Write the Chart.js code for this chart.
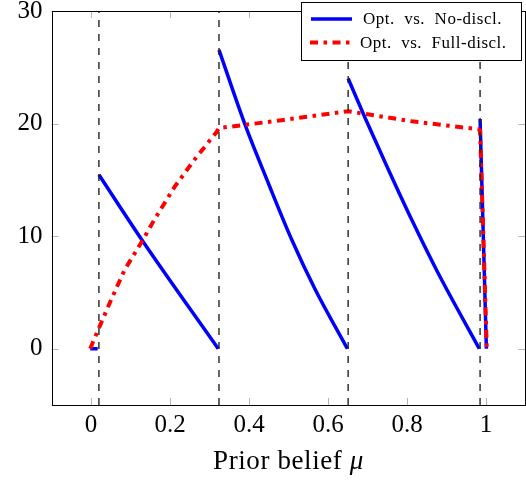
<!DOCTYPE html>
<html>
<head>
<meta charset="utf-8">
<script src="https://cdn.jsdelivr.net/npm/chart.js@4.4.1/dist/chart.umd.min.js"></script>
<style>
  html, body { margin: 0; padding: 0; background: #fff; }
  #wrap { width: 526px; height: 481px; position: relative; }
</style>
</head>
<body>
<div id="wrap"><canvas id="c" width="526" height="481"></canvas></div>
<script>
/* Opt. vs. No-discl. / Full-discl. over prior belief mu */
const xTickVals = [0, 0.2, 0.4, 0.6, 0.8, 1];
const xTickLabels = ['0', '0.2', '0.4', '0.6', '0.8', '1'];
const yTickVals = [0, 10, 20, 30];
const yTickLabels = ['0', '10', '20', '30'];

// blue curve, null = jump
const noDisclX = [-0.002, 0.017, 0.0185, 0.02, 0.132, 0.322, 0.323, 0.324, 0.39, 0.449, 0.508, 0.567, 0.649, 0.65, 0.651, 0.694, 0.753, 0.812, 0.879, 0.983, 0.984, 0.985, 1.001];
const noDisclY = [0, 0, null, 15.45, 9.5, 0, null, 26.55, 19.9, 14.7, 9.7, 5.3, 0, null, 24.0, 20.5, 15.9, 11.45, 6.7, 0, null, 20.4, 0];

// red curve
const fullDisclX = [-0.002, 0.022, 0.051, 0.085, 0.132, 0.161, 0.212, 0.262, 0.317, 0.324, 0.483, 0.651, 0.812, 0.98, 0.985, 1.002];
const fullDisclY = [0, 2.0, 4.35, 7.0, 9.7, 11.5, 14.4, 16.8, 19.2, 19.6, 20.3, 21.1, 20.2, 19.5, 19.4, 0];

// dashed thresholds
const cutX = [0.02, 0.324, 0.651, 0.985];

const FONT = "'Liberation Serif', 'Times New Roman', serif";

function pts(xs, ys) { return xs.map((x, i) => ({ x: x, y: ys[i] })); }

const cutPts = [];
cutX.forEach(x => { cutPts.push({ x: x, y: -5 }, { x: x, y: 30 }, { x: x, y: null }); });

/* box frame + inward ticks */
const framePlugin = {
  id: 'frame',
  afterDatasetsDraw(chart) {
    const { ctx, chartArea: a, scales } = chart;
    ctx.save();
    ctx.strokeStyle = '#b4b4b4';
    ctx.lineWidth = 1;
    const tl = 7;
    xTickVals.forEach(v => {
      const px = Math.round(scales.x.getPixelForValue(v)) + 0.5;
      ctx.beginPath();
      ctx.moveTo(px, a.bottom); ctx.lineTo(px, a.bottom - tl);
      ctx.moveTo(px, a.top); ctx.lineTo(px, a.top + tl);
      ctx.stroke();
    });
    yTickVals.forEach(v => {
      const py = Math.round(scales.y.getPixelForValue(v)) + 0.5;
      ctx.beginPath();
      ctx.moveTo(a.left, py); ctx.lineTo(a.left + tl, py);
      ctx.moveTo(a.right, py); ctx.lineTo(a.right - tl, py);
      ctx.stroke();
    });
    ctx.strokeStyle = '#000';
    ctx.strokeRect(Math.round(a.left) + 0.5, Math.round(a.top) + 0.5,
      Math.round(a.right) - Math.round(a.left) - 1, Math.round(a.bottom) - Math.round(a.top));
    ctx.restore();
  },
  afterDraw(chart) {
    const { ctx, chartArea: a } = chart;
    ctx.save();
    // axis title, mu in italic
    const t1 = 'Prior belief ', t2 = 'μ';
    ctx.fillStyle = '#000';
    ctx.textBaseline = 'alphabetic';
    ctx.letterSpacing = '0.6px';
    ctx.font = '27px ' + FONT;
    const w1 = ctx.measureText(t1).width;
    ctx.font = 'italic 27px ' + FONT;
    const w2 = ctx.measureText(t2).width;
    const cx = (a.left + a.right) / 2;
    let x0 = cx - (w1 + w2) / 2;
    ctx.font = '27px ' + FONT;
    ctx.fillText(t1, x0, 469);
    ctx.font = 'italic 27px ' + FONT;
    ctx.fillText(t2, x0 + w1, 469);
    ctx.letterSpacing = '0px';

    // legend box
    const bx = 301.5, by = 2.5, bw = 220, bh = 58;
    ctx.fillStyle = '#fff';
    ctx.fillRect(bx, by, bw, bh);
    ctx.strokeStyle = '#000';
    ctx.lineWidth = 1;
    ctx.strokeRect(bx, by, bw, bh);
    const rows = [
      { ds: chart.data.datasets[0], y: 19, lx0: 311, lx1: 352, tx: 363 },
      { ds: chart.data.datasets[1], y: 42.5, lx0: 310, lx1: 350, tx: 360 },
    ];
    rows.forEach(r => {
      ctx.beginPath();
      ctx.strokeStyle = r.ds.borderColor;
      ctx.lineWidth = r.ds.borderWidth;
      ctx.setLineDash(r.ds.borderDash || []);
      ctx.moveTo(r.lx0, r.y); ctx.lineTo(r.lx1, r.y);
      ctx.stroke();
      ctx.setLineDash([]);
      ctx.fillStyle = '#000';
      ctx.font = '17px ' + FONT;
      ctx.textBaseline = 'alphabetic';
      ctx.letterSpacing = '0.5px';
      ctx.fillText(r.ds.label, r.tx, r.y + 5);
      ctx.letterSpacing = '0px';
    });
    ctx.restore();
  }
};

new Chart(document.getElementById('c').getContext('2d'), {
  type: 'line',
  data: {
    datasets: [
      {
        label: 'Opt.  vs.  No-discl.',
        data: pts(noDisclX, noDisclY),
        borderColor: '#0000ff',
        borderWidth: 3.5,
        pointRadius: 0,
        cubicInterpolationMode: 'monotone',
        spanGaps: false,
        order: 2,
      },
      {
        label: 'Opt.  vs.  Full-discl.',
        data: pts(fullDisclX, fullDisclY),
        borderColor: '#ff0000',
        borderWidth: 4,
        borderDash: [8, 5.5, 3.5, 5.5],
        borderCapStyle: 'butt',
        pointRadius: 0,
        tension: 0,
        order: 1,
      },
      {
        label: 'cuts',
        data: cutPts,
        borderColor: '#222222',
        borderWidth: 1.4,
        borderDash: [7, 7],
        pointRadius: 0,
        spanGaps: false,
        order: 0,
      },
    ],
  },
  options: {
    responsive: false,
    animation: false,
    devicePixelRatio: 1,
    layout: { padding: { top: 11, right: 0.5, left: 0, bottom: 0 } },
    plugins: {
      legend: { display: false },
      tooltip: { enabled: false },
    },
    scales: {
      x: {
        type: 'linear',
        min: -0.1, max: 1.1,
        afterBuildTicks: s => { s.ticks = xTickVals.map(v => ({ value: v })); },
        afterFit: s => { s.height = 76; s.paddingLeft = 0; s.paddingRight = 0; },
        ticks: {
          color: '#000',
          font: { family: FONT, size: 25 },
          padding: 5,
          maxRotation: 0,
          callback: (v) => xTickLabels[xTickVals.indexOf(v)] ?? '',
        },
        grid: { display: false, drawTicks: false },
        border: { display: false },
      },
      y: {
        type: 'linear',
        min: -5, max: 30,
        afterBuildTicks: s => { s.ticks = yTickVals.map(v => ({ value: v })); },
        afterFit: s => { s.width = 51.5; s.paddingTop = 0; s.paddingBottom = 0; },
        ticks: {
          color: '#000',
          font: { family: FONT, size: 25 },
          padding: 9,
          callback: (v) => yTickLabels[yTickVals.indexOf(v)] ?? '',
        },
        grid: { display: false, drawTicks: false },
        border: { display: false },
      },
    },
  },
  plugins: [framePlugin],
});
</script>
</body>
</html>
